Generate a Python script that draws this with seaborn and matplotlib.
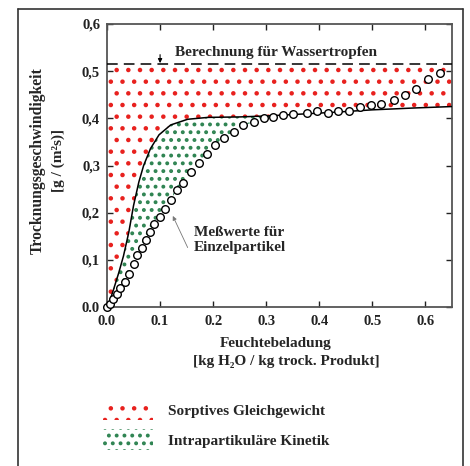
import numpy as np
import pandas as pd
import matplotlib
matplotlib.use("Agg")
import matplotlib.pyplot as plt
from matplotlib.patches import Patch
from matplotlib.lines import Line2D
import seaborn as sns

# ---- data ----
curve_x = [0.0, 0.005, 0.012, 0.022, 0.031, 0.041, 0.05, 0.06, 0.069, 0.082,
           0.098, 0.12, 0.152, 0.19, 0.25, 0.30, 0.35, 0.43, 0.50, 0.58, 0.65]
curve_y = [0.0, 0.012, 0.036, 0.072, 0.108, 0.158, 0.215, 0.265, 0.300, 0.336,
           0.365, 0.386, 0.398, 0.402, 0.403, 0.405, 0.408, 0.413, 0.418, 0.422, 0.425]

meas_x = [0.0, 0.005, 0.011, 0.018, 0.025, 0.033, 0.042, 0.051, 0.057, 0.065,
          0.073, 0.081, 0.089, 0.100, 0.110, 0.120, 0.131, 0.144, 0.158, 0.174,
          0.188, 0.204, 0.221, 0.239, 0.256, 0.277, 0.295, 0.313, 0.332, 0.351,
          0.376, 0.396, 0.417, 0.436, 0.456, 0.477, 0.497, 0.516, 0.540, 0.561,
          0.583, 0.605, 0.627]
meas_y = [0.0, 0.006, 0.016, 0.028, 0.040, 0.052, 0.070, 0.091, 0.110, 0.126,
          0.142, 0.158, 0.176, 0.191, 0.208, 0.226, 0.249, 0.263, 0.287, 0.306,
          0.325, 0.344, 0.358, 0.372, 0.385, 0.392, 0.400, 0.403, 0.408, 0.410,
          0.411, 0.415, 0.412, 0.415, 0.415, 0.424, 0.428, 0.431, 0.438, 0.450,
          0.463, 0.483, 0.497]

water_drop_rate = 0.515
x_ticks = [0.0, 0.1, 0.2, 0.3, 0.4, 0.5, 0.6]
x_tick_labels = ["0.0", "0.1", "0.2", "0.3", "0.4", "0.5", "0.6"]
y_ticks = [0.0, 0.1, 0.2, 0.3, 0.4, 0.5, 0.6]
y_tick_labels = ["0.0", "0,1", "0,2", "0,3", "0,4", "0,5", "0,6"]
legend_labels = ["Sorptives Gleichgewicht", "Intrapartikuläre Kinetik"]

RED = "#e8211e"
GREEN = "#2f8452"
RED_HATCH = ".."
GREEN_HATCH = "..."

# the hatch tile is one inch, so the dpi sets the dot spacing;
# all point sizes are scaled by K so that the picture keeps its pixel sizes
DPI = 140
K = 100 / DPI
W, H = 470, 466
FS = 11 * K
RED_HLW = 1.1
GREEN_HLW = 1.2

sns.set_theme(style="ticks")
plt.rcParams["font.family"] = ["Liberation Serif", "DejaVu Serif"]
plt.rcParams["font.weight"] = "bold"
plt.rcParams["hatch.linewidth"] = RED_HLW


def hatch_lw(artist, lw):
    f = getattr(artist, "set_hatch_linewidth", None)
    if f is not None:
        f(lw)
    return artist


fig = plt.figure(figsize=(W / DPI, H / DPI), dpi=DPI)
fig.patch.set_facecolor("white")
ax = fig.add_axes([107 / W, 1 - 307 / H, 345 / W, (307 - 24) / H])
ax.set_facecolor("white")

cx = np.asarray(curve_x)
cy = np.asarray(curve_y)
grid = np.union1d(cx, np.asarray(meas_x))
upper = np.interp(grid, cx, cy)
lower = np.interp(grid, meas_x, meas_y)

# red dotted region: between model curve and water-drop rate
hatch_lw(ax.fill_between(cx, cy, water_drop_rate, facecolor="none", edgecolor=RED,
                         hatch=RED_HATCH, linewidth=0, zorder=1), RED_HLW)
# green dotted region: between model curve and measured values
hatch_lw(ax.fill_between(grid, upper, lower, where=upper >= lower, interpolate=True,
                         facecolor="none", edgecolor=GREEN, hatch=GREEN_HATCH,
                         linewidth=0, zorder=1), GREEN_HLW)

ax.axhline(water_drop_rate, color="black", lw=1.1 * K, ls=(0, (7, 4)), zorder=3)

df_curve = pd.DataFrame({"x": curve_x, "y": curve_y})
sns.lineplot(data=df_curve, x="x", y="y", sort=False, estimator=None,
             color="black", lw=1.1 * K, ax=ax, zorder=3)
df_meas = pd.DataFrame({"x": meas_x, "y": meas_y})
sns.scatterplot(data=df_meas, x="x", y="y", marker="o", s=30 * K * K,
                facecolor="white", edgecolor="black", linewidth=1.0 * K,
                ax=ax, zorder=4, clip_on=False)

ax.set_xlim(0, 0.65)
ax.set_ylim(0, 0.6)
ax.set_xticks(x_ticks)
ax.set_xticklabels(x_tick_labels)
ax.set_yticks(y_ticks)
ax.set_yticklabels(y_tick_labels)
ax.tick_params(direction="in", length=4 * K, width=1.0 * K, top=True, right=True,
               labelsize=10.5 * K, pad=5 * K, colors="#222222")
ax.tick_params(axis="x", pad=6 * K)
for s in ax.spines.values():
    s.set_visible(True)
    s.set_color("#555555")
    s.set_linewidth(1.3 * K)

ax.set_xlabel("")
ax.set_ylabel("")
fig.text(276 / W, 1 - 343 / H, "Feuchtebeladung", ha="center", va="center",
         fontsize=FS, fontweight="bold")
fig.text(286 / W, 1 - 362 / H, "[kg H\u2082O / kg trock. Produkt]", ha="center",
         va="center", fontsize=FS, fontweight="bold")
fig.text(38 / W, 1 - 161 / H, "Trocknungsgeschwindigkeit", rotation=90,
         ha="center", va="center", fontsize=FS * 1.03, fontweight="bold")
fig.text(58 / W, 1 - 160 / H, "[g / (m\u00b2s)]", rotation=90,
         ha="center", va="center", fontsize=FS, fontweight="bold")

ax.text(0.129, 0.54, "Berechnung für Wassertropfen", ha="left", va="center",
        fontsize=FS, fontweight="bold")
ax.annotate("", xy=(0.10, 0.517), xytext=(0.10, 0.535),
            arrowprops=dict(arrowstyle="-|>", color="black", lw=0.8 * K,
                            mutation_scale=6 * K, shrinkA=0, shrinkB=0))
ax.text(0.163, 0.143, "Meßwerte für\nEinzelpartikel", ha="left", va="center",
        fontsize=FS, fontweight="bold", linespacing=1.2)
ax.annotate("", xy=(0.124, 0.193), xytext=(0.152, 0.126),
            arrowprops=dict(arrowstyle="-|>", color="#777777", lw=0.6 * K,
                            mutation_scale=6 * K, shrinkA=0, shrinkB=0))

h_red = hatch_lw(Patch(facecolor="none", edgecolor=RED, hatch=RED_HATCH, linewidth=0), RED_HLW)
h_green = hatch_lw(Patch(facecolor="none", edgecolor=GREEN, hatch=GREEN_HATCH, linewidth=0),
                   GREEN_HLW)
leg = fig.legend([h_red, h_green], legend_labels, loc="upper left",
                 bbox_to_anchor=(103 / W, 1 - 399 / H), frameon=False,
                 prop=dict(family=["Liberation Serif", "DejaVu Serif"], weight="bold", size=FS),
                 handlelength=3.3, handleheight=1.75, handletextpad=0.95,
                 labelspacing=0.6, borderpad=0, borderaxespad=0)
for hp, lw in zip(leg.get_patches(), [RED_HLW, GREEN_HLW]):
    hatch_lw(hp, lw)

# outer frame of the figure panel
frame_kw = dict(color="#333333", lw=1.2 * K, transform=fig.transFigure)
fig.add_artist(Line2D([18 / W, 18 / W], [0, 1 - 9 / H], **frame_kw))
fig.add_artist(Line2D([18 / W, 463 / W], [1 - 9 / H, 1 - 9 / H], **frame_kw))
fig.add_artist(Line2D([463 / W, 463 / W], [0, 1 - 9 / H], **frame_kw))

fig.savefig("out.png", dpi=DPI, facecolor="white")
